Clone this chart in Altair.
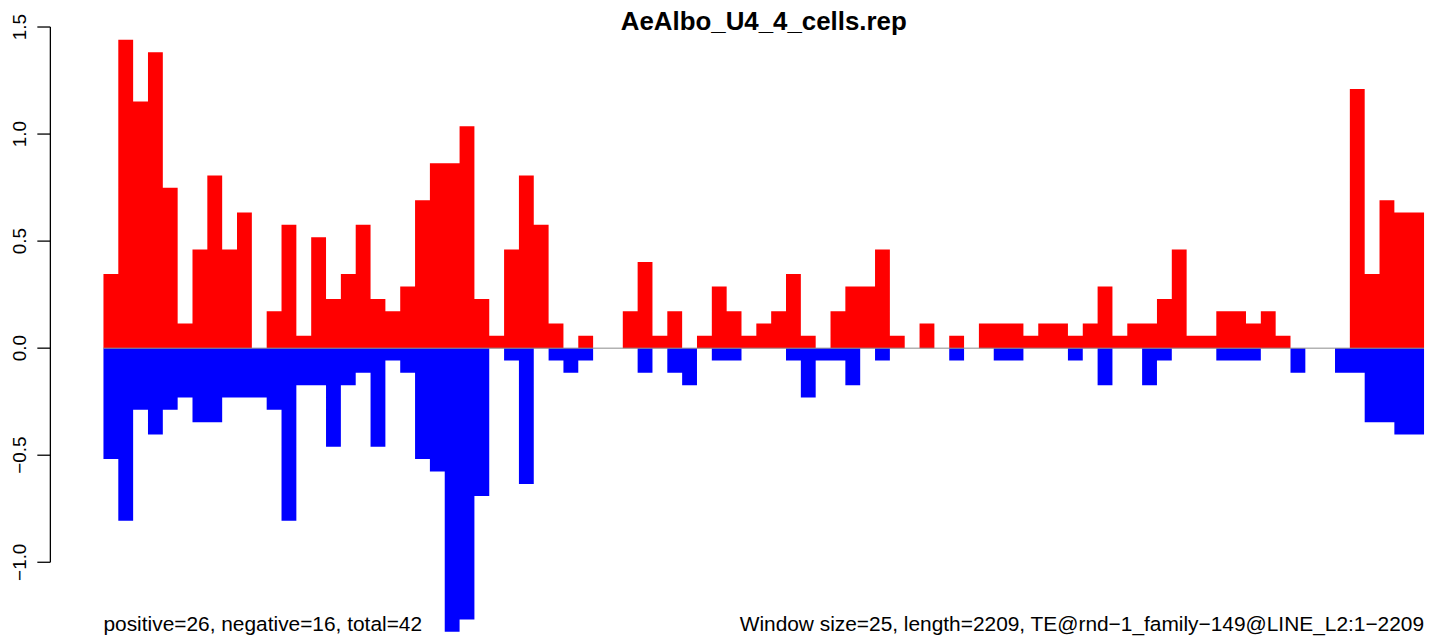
import altair as alt
import pandas as pd

# ---- data (89 windows of 25 bp) ----
title_text = "AeAlbo_U4_4_cells.rep"
left_note = "positive=26, negative=16, total=42"
right_note = "Window size=25, length=2209, TE@rnd\u22121_family\u2212149@LINE_L2:1\u22122209"

positive_values = [
    0.346, 1.440, 1.152, 1.382, 0.749, 0.115, 0.461, 0.806, 0.461, 0.634,
    0.000, 0.173, 0.576, 0.058, 0.518, 0.230, 0.346, 0.576, 0.230, 0.173,
    0.288, 0.691, 0.864, 0.864, 1.037, 0.230, 0.058, 0.461, 0.806, 0.576,
    0.115, 0.000, 0.058, 0.000, 0.000, 0.173, 0.403, 0.058, 0.173, 0.000,
    0.058, 0.288, 0.173, 0.058, 0.115, 0.173, 0.346, 0.058, 0.000, 0.173,
    0.288, 0.288, 0.461, 0.058, 0.000, 0.115, 0.000, 0.058, 0.000, 0.115,
    0.115, 0.115, 0.058, 0.115, 0.115, 0.058, 0.115, 0.288, 0.058, 0.115,
    0.115, 0.230, 0.461, 0.058, 0.058, 0.173, 0.173, 0.115, 0.173, 0.058,
    0.000, 0.000, 0.000, 0.000, 1.210, 0.346, 0.691, 0.634, 0.634,
]
negative_values = [
    -0.518, -0.806, -0.288, -0.403, -0.288, -0.230, -0.346, -0.346, -0.230, -0.230,
    -0.230, -0.288, -0.806, -0.173, -0.173, -0.461, -0.173, -0.115, -0.461, -0.058,
    -0.115, -0.518, -0.576, -1.325, -1.267, -0.691, 0.000, -0.058, -0.634, 0.000,
    -0.058, -0.115, -0.058, 0.000, 0.000, 0.000, -0.115, 0.000, -0.115, -0.173,
    0.000, -0.058, -0.058, 0.000, 0.000, 0.000, -0.058, -0.230, -0.058, -0.058,
    -0.173, 0.000, -0.058, 0.000, 0.000, 0.000, 0.000, -0.058, 0.000, 0.000,
    -0.058, -0.058, 0.000, 0.000, 0.000, -0.058, 0.000, -0.173, 0.000, 0.000,
    -0.173, -0.058, 0.000, 0.000, 0.000, -0.058, -0.058, -0.058, 0.000, 0.000,
    -0.115, 0.000, 0.000, -0.115, -0.115, -0.346, -0.346, -0.403, -0.403,
]
y_ticks = [-1.0, -0.5, 0.0, 0.5, 1.0, 1.5]

n_win = len(positive_values)


def step_frame(values, strand):
    # one point per window start plus a closing point at the last window's end
    xs = list(range(n_win)) + [n_win]
    vs = list(values) + [values[-1]]
    return pd.DataFrame({"pos": xs, "value": vs, "base": 0.0, "strand": strand})


df_pos = step_frame(positive_values, "positive")
df_neg = step_frame(negative_values, "negative")

FONT = "Liberation Sans"
X_MIN = -3.619
PX = 14.921  # pixels per window on the x scale
x_scale = alt.Scale(domain=[X_MIN, 89.806], nice=False, zero=False)
y_scale = alt.Scale(domain=[-1.3502, 1.5806], nice=False, zero=False)

tick_labels = alt.Chart(pd.DataFrame({"lab": y_ticks})).mark_text(
    font=FONT, fontSize=19, angle=270, align="center", baseline="alphabetic", color="black"
).encode(
    x=alt.value(-24),
    y=alt.Y("lab:Q", scale=y_scale, axis=None),
    text=alt.Text("lab:Q", format=".1f"),
)


def step_area(frame, colour):
    return alt.Chart(frame).mark_area(
        interpolate="step-after", color=colour, opacity=1
    ).encode(
        x=alt.X("pos:Q", scale=x_scale, axis=None),
        y=alt.Y("value:Q", scale=y_scale, axis=None),
        y2="base:Q",
    )


pos_area = step_area(df_pos, "#FF0000")
neg_area = step_area(df_neg, "#0000FF")

zero_line = alt.Chart(pd.DataFrame({"x": [0], "x2": [n_win], "y": [0.0]})).mark_rule(
    color="#8a8a8a", strokeWidth=1
).encode(
    x=alt.X("x:Q", scale=x_scale, axis=None),
    x2="x2:Q",
    y=alt.Y("y:Q", scale=y_scale, axis=None),
)

# R-style y axis: line spans only from the first to the last tick
axis_df = pd.DataFrame({"ax": [X_MIN + 0.6 / PX], "lo": [y_ticks[0]], "hi": [y_ticks[-1]]})
y_axis_line = alt.Chart(axis_df).mark_rule(color="#000000", strokeWidth=1.3).encode(
    x=alt.X("ax:Q", scale=x_scale, axis=None),
    y=alt.Y("lo:Q", scale=y_scale, axis=None),
    y2="hi:Q",
)

ticks_df = pd.DataFrame({
    "t0": [X_MIN - 12.5 / PX] * len(y_ticks),
    "t1": [X_MIN + 0.6 / PX] * len(y_ticks),
    "ty": y_ticks,
})
tick_marks = alt.Chart(ticks_df).mark_rule(color="#000000", strokeWidth=1.3).encode(
    x=alt.X("t0:Q", scale=x_scale, axis=None),
    x2="t1:Q",
    y=alt.Y("ty:Q", scale=y_scale, axis=None),
)

title = alt.Chart(pd.DataFrame({"t": [title_text], "x": [n_win / 2]})).mark_text(
    font=FONT, fontSize=26, fontWeight="bold", align="center", baseline="alphabetic", color="black"
).encode(
    x=alt.X("x:Q", scale=x_scale, axis=None),
    y=alt.value(20),
    text="t:N",
)

note_left = alt.Chart(pd.DataFrame({"t": [left_note], "x": [0]})).mark_text(
    font=FONT, fontSize=21, align="left", baseline="alphabetic", color="black"
).encode(
    x=alt.X("x:Q", scale=x_scale, axis=None),
    y=alt.value(625),
    text="t:N",
)

note_right = alt.Chart(pd.DataFrame({"t": [right_note], "x": [n_win]})).mark_text(
    font=FONT, fontSize=21, align="right", baseline="alphabetic", color="black"
).encode(
    x=alt.X("x:Q", scale=x_scale, axis=None),
    y=alt.value(625),
    text="t:N",
)

chart = alt.layer(
    tick_labels, pos_area, neg_area, zero_line, title, note_left, note_right,
    y_axis_line, tick_marks
).properties(
    width=1394,
    height=631,
    padding={"left": 42, "top": 0, "right": 0, "bottom": 0},
    autosize=alt.AutoSizeParams(type="none"),
    background="white",
).configure_view(stroke=None)

chart.save("out.html", embed_options={"renderer": "svg", "actions": False})
